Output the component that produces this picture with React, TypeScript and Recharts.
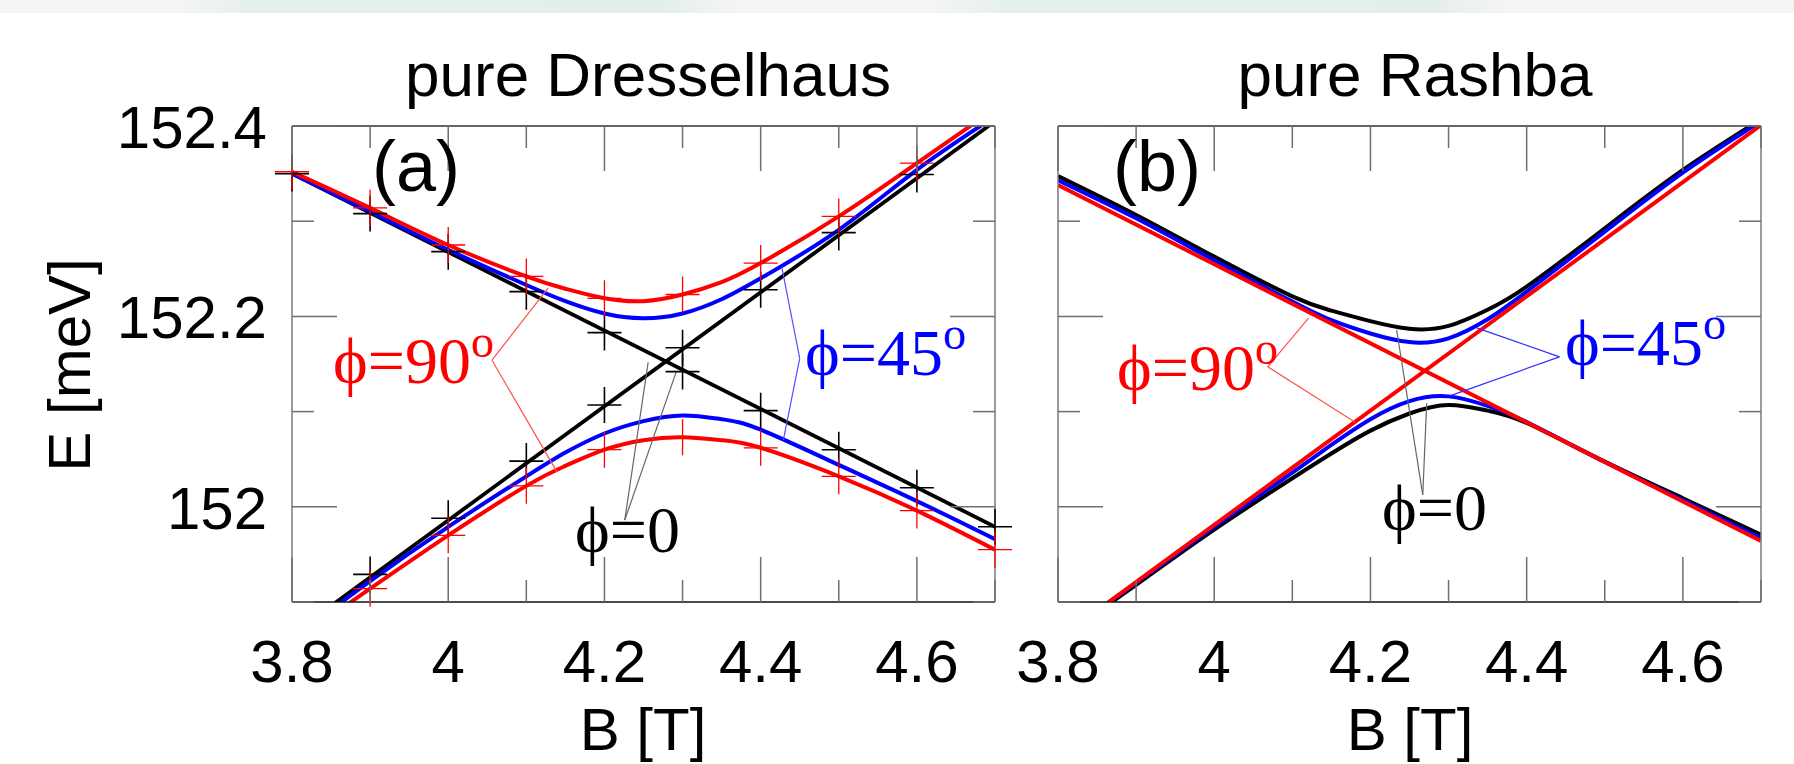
import React from 'react';
import { ComposedChart, Line, XAxis, YAxis, Scatter, ReferenceLine } from 'recharts';

const B_GRID = [3.8, 3.9, 4.0, 4.1, 4.15, 4.2, 4.25, 4.3, 4.35, 4.4, 4.5, 4.6, 4.7];
const B_EDGES = [3.8, 4.7];
const B_MARKS = [3.8, 3.9, 4.0, 4.1, 4.2, 4.3, 4.4, 4.5, 4.6, 4.7];

const X_TICKS = [3.8, 3.9, 4.0, 4.1, 4.2, 4.3, 4.4, 4.5, 4.6, 4.7];
const Y_TICKS = [151.9, 152.0, 152.1, 152.2, 152.3, 152.4];

// (a) pure Dresselhaus
const dBlackDown = [152.35, 151.979];
const dBlackUp = [151.866, 152.405];
const dBlueUpper = [152.35, 152.31, 152.27, 152.233, 152.216, 152.203, 152.198, 152.203, 152.218, 152.24, 152.291, 152.354, 152.41];
const dRedUpper = [152.352, 152.314, 152.275, 152.242, 152.229, 152.219, 152.216, 152.223, 152.236, 152.256, 152.305, 152.361, 152.418];
const dBlueLower = [151.861, 151.922, 151.979, 152.032, 152.057, 152.077, 152.09, 152.096, 152.092, 152.081, 152.044, 152.006, 151.966];
const dRedLower = [151.857, 151.914, 151.97, 152.022, 152.043, 152.06, 152.07, 152.073, 152.07, 152.062, 152.032, 151.996, 151.955];

// (a) numerical points (+ markers), at B_MARKS
const dBlackMarkDown = [152.35, 152.308, 152.268, 152.226, 152.183, 152.142, 152.101, 152.06, 152.02, 151.979];
const dBlackMarkUp = [null, 151.929, 151.988, 152.048, 152.107, 152.167, 152.228, 152.288, 152.349, null];
const dRedMarkUpper = [152.352, 152.314, 152.275, 152.242, 152.219, 152.223, 152.256, 152.305, 152.361, null];
const dRedMarkLower = [null, 151.914, 151.97, 152.022, 152.06, 152.073, 152.062, 152.032, 151.996, 151.955];

// (b) pure Rashba
const rRedDown = [152.338, 151.964];
const rRedUp = [151.861, 152.401];
const rBlackUpper = [152.3475, 152.3066, 152.2628, 152.221, 152.206, 152.195, 152.187, 152.19, 152.207, 152.2313, 152.2926, 152.3538, 152.407];
const rBlueUpper = [152.343, 152.303, 152.259, 152.2156, 152.196, 152.182, 152.173, 152.177, 152.197, 152.226, 152.289, 152.351, 152.405];
const rBlackLower = [151.86, 151.918, 151.976, 152.03, 152.056, 152.08, 152.098, 152.107, 152.101, 152.088, 152.0475, 152.009, 151.9706];
const rBlueLower = [151.861, 151.92, 151.979, 152.036, 152.065, 152.092, 152.111, 152.116, 152.106, 152.089, 152.047, 152.007, 151.967];

const RED = '#ff0000';
const BLUE = '#0000ff';
const TICK = '#6e6e6e';
const SANS = '"Liberation Sans", Arial, Helvetica, sans-serif';
const SERIF = '"Liberation Serif", "Times New Roman", serif';

const pts = (bs: number[], es: (number | null)[]) =>
  bs.map((B, i) => ({ B, E: es[i] })).filter((p) => p.E !== null);

const isMajor = (v: number) => Math.round(v * 10) % 2 === 0;
const fmt = (v: number) => String(Math.round(v * 10) / 10);

const BottomTick = (props: any) => {
  const { x, y, payload } = props;
  const v = payload.value;
  const len = isMajor(v) ? 45 : 22;
  return (
    <g>
      <line x1={x} y1={y} x2={x} y2={y - len} stroke={TICK} strokeWidth={1.5} />
      {isMajor(v) && (
        <text x={x} y={y + 80} textAnchor="middle" fontSize={60} fontFamily={SANS} fill="#000">
          {fmt(v)}
        </text>
      )}
    </g>
  );
};

const TopTick = (props: any) => {
  const { x, y, payload } = props;
  const len = isMajor(payload.value) ? 45 : 22;
  return <line x1={x} y1={y} x2={x} y2={y + len} stroke={TICK} strokeWidth={1.5} />;
};

const makeLeftTick = (withLabels: boolean) => (props: any) => {
  const { x, y, payload } = props;
  const v = payload.value;
  const len = isMajor(v) ? 45 : 22;
  return (
    <g>
      <line x1={x} y1={y} x2={x + len} y2={y} stroke={TICK} strokeWidth={1.5} />
      {withLabels && isMajor(v) && (
        <text x={x - 25} y={y + 22} textAnchor="end" fontSize={60} fontFamily={SANS} fill="#000">
          {fmt(v)}
        </text>
      )}
    </g>
  );
};

const RightTick = (props: any) => {
  const { x, y, payload } = props;
  const len = isMajor(payload.value) ? 45 : 22;
  return <line x1={x} y1={y} x2={x - len} y2={y} stroke={TICK} strokeWidth={1.5} />;
};

const plusShape = (color: string, w: number) => (p: any) => (
  <path
    d={`M${p.cx - 17},${p.cy}H${p.cx + 17}M${p.cx},${p.cy - 18}V${p.cy + 18}`}
    stroke={color}
    strokeWidth={w}
    fill="none"
  />
);

const frameAxes = (labels: boolean) => [
  <XAxis
    key="xb"
    type="number"
    dataKey="B"
    domain={[3.8, 4.7]}
    ticks={X_TICKS}
    interval={0}
    allowDataOverflow
    height={30}
    tickSize={0}
    tickMargin={0}
    tickLine={false}
    axisLine={{ stroke: '#111', strokeWidth: 1.5 }}
    tick={BottomTick}
  />,
  <XAxis
    key="xt"
    xAxisId="top"
    orientation="top"
    type="number"
    dataKey="B"
    domain={[3.8, 4.7]}
    ticks={X_TICKS}
    interval={0}
    allowDataOverflow
    height={30}
    tickSize={0}
    tickMargin={0}
    tickLine={false}
    axisLine={{ stroke: '#333', strokeWidth: 1.5 }}
    tick={TopTick}
  />,
  <YAxis
    key="yl"
    type="number"
    dataKey="E"
    domain={[151.9, 152.4]}
    ticks={Y_TICKS}
    interval={0}
    allowDataOverflow
    width={60}
    tickSize={0}
    tickMargin={0}
    tickLine={false}
    axisLine={{ stroke: '#7a7a7a', strokeWidth: 1.5 }}
    tick={makeLeftTick(labels)}
  />,
  <YAxis
    key="yr"
    yAxisId="right"
    orientation="right"
    type="number"
    dataKey="E"
    domain={[151.9, 152.4]}
    ticks={Y_TICKS}
    interval={0}
    allowDataOverflow
    width={20}
    tickSize={0}
    tickMargin={0}
    tickLine={false}
    axisLine={{ stroke: '#7a7a7a', strokeWidth: 1.5 }}
    tick={RightTick}
  />,
  <XAxis key="mx" xAxisId="m" type="number" dataKey="B" domain={[3.8, 4.7]} hide />,
  <YAxis key="my" yAxisId="m" type="number" dataKey="E" domain={[151.9, 152.4]} hide />,
];

const seg = (a: [number, number], b: [number, number]) => [
  { x: a[0], y: a[1] },
  { x: b[0], y: b[1] },
];

const Dresselhaus = () => (
  <ComposedChart width={1794} height={764} margin={{ top: 96, bottom: 132, left: 232, right: 779 }}>
    {frameAxes(true)}
    <Line data={pts(B_EDGES, dBlackDown)} dataKey="E" type="linear" stroke="#000" strokeWidth={3.8} dot={false} isAnimationActive={false} />
    <Line data={pts(B_EDGES, dBlackUp)} dataKey="E" type="linear" stroke="#000" strokeWidth={3.8} dot={false} isAnimationActive={false} />
    <Line data={pts(B_GRID, dBlueUpper)} dataKey="E" type="natural" stroke={BLUE} strokeWidth={4} dot={false} isAnimationActive={false} />
    <Line data={pts(B_GRID, dBlueLower)} dataKey="E" type="natural" stroke={BLUE} strokeWidth={4} dot={false} isAnimationActive={false} />
    <Line data={pts(B_GRID, dRedUpper)} dataKey="E" type="natural" stroke={RED} strokeWidth={4} dot={false} isAnimationActive={false} />
    <Line data={pts(B_GRID, dRedLower)} dataKey="E" type="natural" stroke={RED} strokeWidth={4} dot={false} isAnimationActive={false} />
    <Scatter xAxisId="m" yAxisId="m" data={pts(B_MARKS, dBlackMarkDown)} shape={plusShape('#000', 1.6)} isAnimationActive={false} />
    <Scatter xAxisId="m" yAxisId="m" data={pts(B_MARKS, dBlackMarkUp)} shape={plusShape('#000', 1.6)} isAnimationActive={false} />
    <Scatter xAxisId="m" yAxisId="m" data={pts(B_MARKS, dRedMarkUpper)} shape={plusShape(RED, 1.3)} isAnimationActive={false} />
    <Scatter xAxisId="m" yAxisId="m" data={pts(B_MARKS, dRedMarkLower)} shape={plusShape(RED, 1.3)} isAnimationActive={false} />
    <ReferenceLine segment={seg([4.056, 152.154], [4.128, 152.23])} stroke="#ff5050" strokeWidth={1.2} />
    <ReferenceLine segment={seg([4.056, 152.154], [4.139, 152.037])} stroke="#ff5050" strokeWidth={1.2} />
    <ReferenceLine segment={seg([4.45, 152.156], [4.427, 152.252])} stroke="#5050ff" strokeWidth={1.2} />
    <ReferenceLine segment={seg([4.45, 152.156], [4.429, 152.07])} stroke="#5050ff" strokeWidth={1.2} />
    <ReferenceLine segment={seg([4.226, 151.986], [4.256, 152.152])} stroke="#666" strokeWidth={1.2} />
    <ReferenceLine segment={seg([4.226, 151.986], [4.292, 152.142])} stroke="#666" strokeWidth={1.2} />
  </ComposedChart>
);

const Rashba = () => (
  <ComposedChart width={1794} height={764} margin={{ top: 96, bottom: 132, left: 998, right: 13 }}>
    {frameAxes(false)}
    <Line data={pts(B_GRID, rBlackUpper)} dataKey="E" type="natural" stroke="#000" strokeWidth={4} dot={false} isAnimationActive={false} />
    <Line data={pts(B_GRID, rBlackLower)} dataKey="E" type="natural" stroke="#000" strokeWidth={4} dot={false} isAnimationActive={false} />
    <Line data={pts(B_GRID, rBlueUpper)} dataKey="E" type="natural" stroke={BLUE} strokeWidth={4} dot={false} isAnimationActive={false} />
    <Line data={pts(B_GRID, rBlueLower)} dataKey="E" type="natural" stroke={BLUE} strokeWidth={4} dot={false} isAnimationActive={false} />
    <Line data={pts(B_EDGES, rRedDown)} dataKey="E" type="linear" stroke={RED} strokeWidth={4} dot={false} isAnimationActive={false} />
    <Line data={pts(B_EDGES, rRedUp)} dataKey="E" type="linear" stroke={RED} strokeWidth={4} dot={false} isAnimationActive={false} />
    <ReferenceLine segment={seg([4.0685, 152.147], [4.121, 152.1984])} stroke="#ff5050" strokeWidth={1.2} />
    <ReferenceLine segment={seg([4.0685, 152.147], [4.18, 152.089])} stroke="#ff5050" strokeWidth={1.2} />
    <ReferenceLine segment={seg([4.442, 152.1575], [4.336, 152.188])} stroke="#3030ff" strokeWidth={1.2} />
    <ReferenceLine segment={seg([4.442, 152.1575], [4.3015, 152.1165])} stroke="#3030ff" strokeWidth={1.2} />
    <ReferenceLine segment={seg([4.267, 152.0126], [4.2335, 152.186])} stroke="#666" strokeWidth={1.2} />
    <ReferenceLine segment={seg([4.267, 152.0126], [4.272, 152.109])} stroke="#666" strokeWidth={1.2} />
  </ComposedChart>
);

const Phi = ({ x, y, color, value, deg }: { x: number; y: number; color: string; value: string; deg: boolean }) => (
  <text x={x} y={y} fontSize={66} fontFamily={SERIF} fill={color}>
    {'\u03D5=' + value}
    {deg && (
      <tspan fontSize={46} dy={-26}>
        o
      </tspan>
    )}
  </text>
);

export default function App() {
  return (
    <div style={{ position: 'absolute', left: 0, top: 0, width: 1794, height: 764, background: '#fff', overflow: 'hidden' }}>
      <div
        style={{
          position: 'absolute',
          left: 0,
          top: 0,
          width: 1794,
          height: 13,
          background:
            'linear-gradient(90deg, #f3f5f4 0%, #f3f5f4 10%, #e5f0eb 14%, #e4efea 37%, #f3f5f4 41%, #f3f5f4 52%, #e5f0ec 56%, #e5efea 80%, #f3f5f4 84%, #f3f5f4 100%)',
        }}
      />
      <div style={{ position: 'absolute', left: 0, top: 0 }}>
        <Dresselhaus />
      </div>
      <div style={{ position: 'absolute', left: 0, top: 0 }}>
        <Rashba />
      </div>
      <svg width={1794} height={764} style={{ position: 'absolute', left: 0, top: 0, pointerEvents: 'none' }}>
        <text x={648} y={96} textAnchor="middle" fontSize={62} fontFamily={SANS}>pure Dresselhaus</text>
        <text x={1415} y={96} textAnchor="middle" fontSize={62} fontFamily={SANS}>pure Rashba</text>
        <text x={372} y={191} fontSize={72} fontFamily={SANS}>(a)</text>
        <text x={1113} y={191} fontSize={72} fontFamily={SANS}>(b)</text>
        <text x={643} y={750} textAnchor="middle" fontSize={60} fontFamily={SANS}>B [T]</text>
        <text x={1410} y={750} textAnchor="middle" fontSize={60} fontFamily={SANS}>B [T]</text>
        <text transform="translate(90,365) rotate(-90)" textAnchor="middle" fontSize={60} fontFamily={SANS}>E [meV]</text>
        <Phi x={333} y={383} color={RED} value="90" deg />
        <Phi x={805} y={375} color={BLUE} value="45" deg />
        <Phi x={575} y={552} color="#000" value="0" deg={false} />
        <Phi x={1117} y={390} color={RED} value="90" deg />
        <Phi x={1565} y={365} color={BLUE} value="45" deg />
        <Phi x={1382} y={530} color="#000" value="0" deg={false} />
      </svg>
    </div>
  );
}
